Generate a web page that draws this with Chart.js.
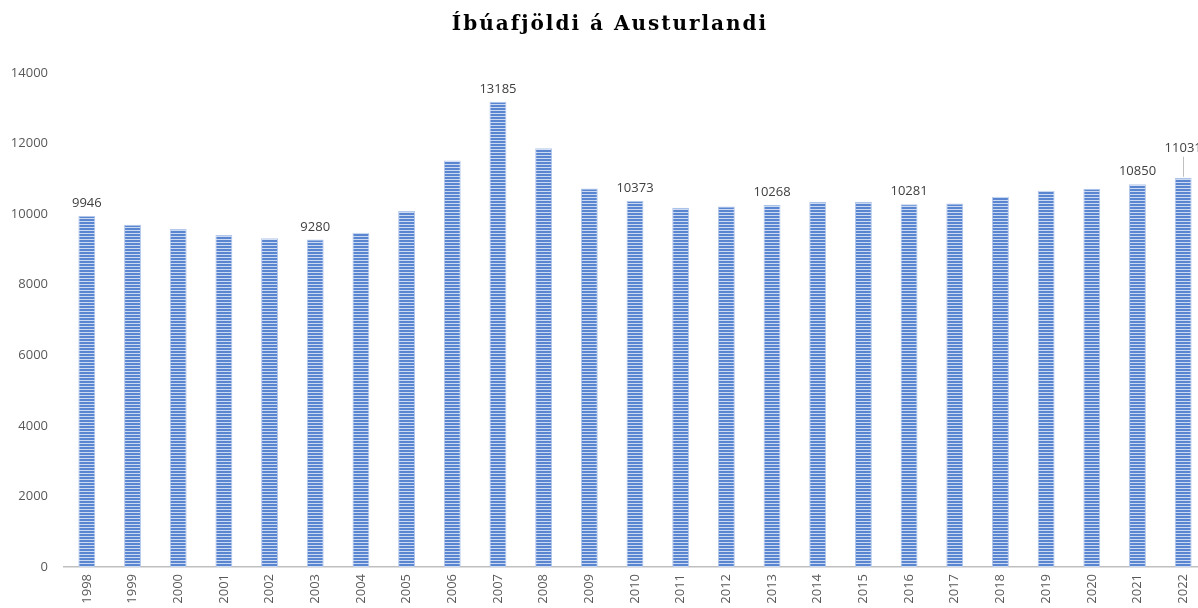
<!DOCTYPE html>
<html>
<head>
<meta charset="utf-8">
<script src="https://cdn.jsdelivr.net/npm/chart.js@4.4.0/dist/chart.umd.min.js"></script>
<style>
  html, body { margin: 0; padding: 0; overflow: hidden; background: #fff; }
  #wrap { width: 1206px; height: 620px; }
</style>
</head>
<body>
<div id="wrap"><canvas id="myChart" width="1206" height="620"></canvas></div>
<script>
const years = ['1998', '1999', '2000', '2001', '2002', '2003', '2004', '2005', '2006', '2007',
    '2008', '2009', '2010', '2011', '2012', '2013', '2014', '2015', '2016', '2017',
    '2018', '2019', '2020', '2021', '2022'];
const population = [9946, 9700, 9580, 9410, 9320, 9280, 9470, 10090, 11520, 13185,
    11870, 10730, 10373, 10180, 10220, 10268, 10350, 10350, 10281, 10300,
    10490, 10660, 10720, 10850, 11031];
// only these bars carry a value label in the original
const labelledYears = ['1998', '2003', '2007', '2010', '2013', '2016', '2021', '2022'];
const yTicks = [0, 2000, 4000, 6000, 8000, 10000, 12000, 14000];
const chartTitle = 'Íbúafjöldi á Austurlandi';

// striped fill for the bars
var pc = document.createElement('canvas');
pc.width = 4; pc.height = 3;
var pctx = pc.getContext('2d');
pctx.fillStyle = '#5a86d1';
pctx.fillRect(0, 0, 4, 3);
pctx.fillStyle = '#cbd9f1';
pctx.fillRect(0, 2, 4, 1);
var stripes = document.getElementById('myChart').getContext('2d').createPattern(pc, 'repeat');

// title drawn by hand so it can get the wide letter spacing
const titlePlugin = {
    id: 'titlePlugin',
    afterDraw(chart) {
        const ctx = chart.ctx;
        ctx.save();
        ctx.font = 'bold 20px "DejaVu Serif", serif';
        ctx.letterSpacing = '2px';
        ctx.fillStyle = '#000';
        ctx.textAlign = 'center';
        ctx.textBaseline = 'middle';
        ctx.fillText(chartTitle, 610, 25);
        ctx.restore();
    }
};

const valueLabels = {
    id: 'valueLabels',
    afterDatasetsDraw(chart) {
        const ctx = chart.ctx;
        const meta = chart.getDatasetMeta(0);
        ctx.save();
        ctx.font = '13px "Open Sans", sans-serif';
        ctx.fillStyle = '#404040';
        ctx.textAlign = 'center';
        ctx.textBaseline = 'bottom';
        meta.data.forEach(function (bar, i) {
            if (labelledYears.indexOf(years[i]) < 0) return;
            var txt = String(population[i]);
            if (years[i] === '2022') {
                // pushed up with a leader line
                ctx.strokeStyle = '#bfbfbf';
                ctx.lineWidth = 1;
                ctx.beginPath();
                ctx.moveTo(Math.round(bar.x) + 0.5, bar.y - 1);
                ctx.lineTo(Math.round(bar.x) + 0.5, bar.y - 21);
                ctx.stroke();
                ctx.fillText(txt, bar.x, bar.y - 23);
            } else {
                ctx.fillText(txt, bar.x, bar.y - 6);
            }
        });
        ctx.restore();
    }
};

const config = {
    type: 'bar',
    data: {
        labels: years,
        datasets: [{
            data: population,
            backgroundColor: stripes,
            borderColor: '#b3c7ea',
            borderWidth: {left: 1, right: 1, top: 1, bottom: 0},
            barPercentage: 0.37,
            categoryPercentage: 1
        }]
    },
    options: {
        responsive: false,
        animation: false,
        layout: {
            padding: {top: 73, right: 0, left: 0, bottom: 0}
        },
        scales: {
            x: {
                grid: {display: false, drawTicks: false},
                border: {color: '#bfbfbf', width: 1.5},
                ticks: {
                    color: '#595959',
                    font: {family: '"Open Sans", sans-serif', size: 13},
                    minRotation: 90,
                    maxRotation: 90,
                    padding: 7
                },
                afterFit: function (scale) { scale.height = 53; }
            },
            y: {
                min: 0,
                max: 14000,
                grid: {display: false, drawTicks: false},
                border: {display: false},
                afterBuildTicks: function (scale) {
                    scale.ticks = yTicks.map(function (v) { return {value: v}; });
                },
                ticks: {
                    color: '#595959',
                    font: {family: '"Open Sans", sans-serif', size: 13},
                    padding: 16,
                    callback: function (v) { return String(v); }
                },
                afterFit: function (scale) { scale.width = 64; }
            }
        },
        plugins: {
            legend: {display: false},
            tooltip: {enabled: false},
            title: {display: false}
        }
    },
    plugins: [valueLabels, titlePlugin]
};

const myChart = new Chart(
    document.getElementById('myChart'),
    config
);
</script>
</body>
</html>
